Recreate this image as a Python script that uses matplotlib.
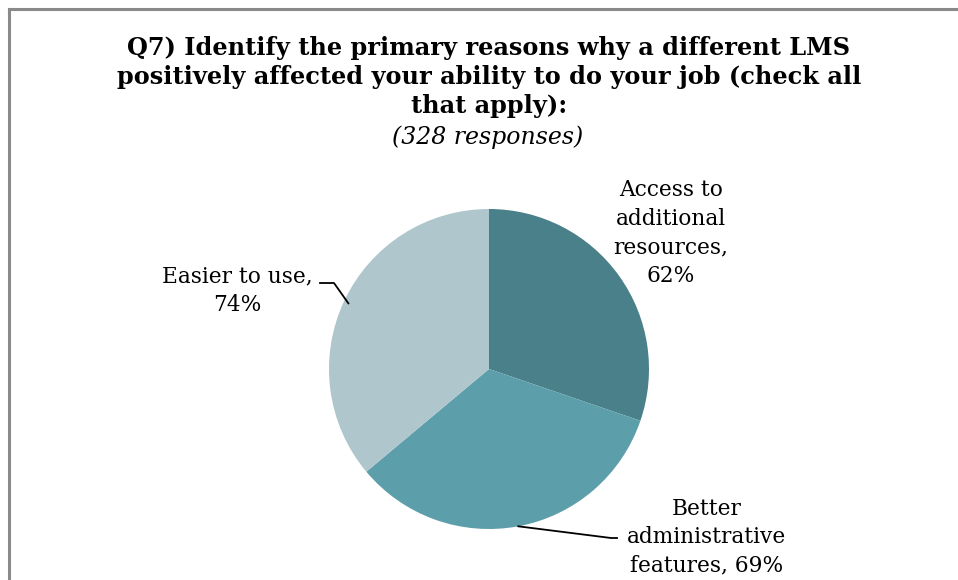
import numpy as np
import matplotlib
matplotlib.use("Agg")
import matplotlib.pyplot as plt
from matplotlib.lines import Line2D

categories = ["Access to\nadditional\nresources,\n62%",
              "Better\nadministrative\nfeatures, 69%",
              "Easier to use,\n74%"]
values = [62, 69, 74]
colors = ["#4A8089", "#5C9EAA", "#AEC6CC"]
title = "Q7) Identify the primary reasons why a different LMS\npositively affected your ability to do your job (check all\nthat apply):"
subtitle = "(328 responses)"

W, H = 958, 580
fig = plt.figure(figsize=(W / 100, H / 100), dpi=100)
fig.patch.set_facecolor("white")

def fx(px):
    return px / W

def fy(py):
    return 1 - py / H

# frame lines (top & left)
fig.add_artist(Line2D([fx(8.5), 1], [fy(8.5), fy(8.5)], color="#8a8a8a", lw=2.2, transform=fig.transFigure))
fig.add_artist(Line2D([fx(8.5), fx(8.5)], [fy(8.5), 0], color="#8a8a8a", lw=2.2, transform=fig.transFigure))

cx, cy, r = 489, 369, 160
ax = fig.add_axes([fx(cx - r), fy(cy + r), 2 * r / W, 2 * r / H])
wedges, _ = ax.pie(values, colors=colors, startangle=90, counterclock=False,
                   radius=1, wedgeprops=dict(linewidth=0))
ax.set_xlim(-1, 1)
ax.set_ylim(-1, 1)
ax.set_aspect("equal")
ax.axis("off")

serif = ["DejaVu Serif"]
fig.text(fx(489), fy(77), title, ha="center", va="center", fontsize=17.3,
         fontweight="bold", family=serif, linespacing=1.26)
fig.text(fx(488), fy(137), subtitle, ha="center", va="center", fontsize=17,
         style="italic", family=serif)

label_pos = [(671, 233), (707, 537), (237, 291)]
# leader elbow (label side) in pixels: (start, elbow); None -> no leader
leader_px = [None, ((617, 538), (611, 538)), ((320, 283), (334, 283))]
leader_r = [1.0, 1.0, 0.97]

for w, lab, (lx, ly), ld, lr in zip(wedges, categories, label_pos, leader_px, leader_r):
    fig.text(fx(lx), fy(ly), lab, ha="center", va="center", fontsize=15.6,
             family=serif, linespacing=1.38)
    if ld is not None:
        ang = np.deg2rad((w.theta1 + w.theta2) / 2)
        end_disp = ax.transData.transform((lr * np.cos(ang), lr * np.sin(ang)))
        end_fig = fig.transFigure.inverted().transform(end_disp)
        xs = [fx(ld[0][0]), fx(ld[1][0]), end_fig[0]]
        ys = [fy(ld[0][1]), fy(ld[1][1]), end_fig[1]]
        fig.add_artist(Line2D(xs, ys, color="black", lw=1.3, transform=fig.transFigure))

fig.savefig("out.png", dpi=100, facecolor="white")
